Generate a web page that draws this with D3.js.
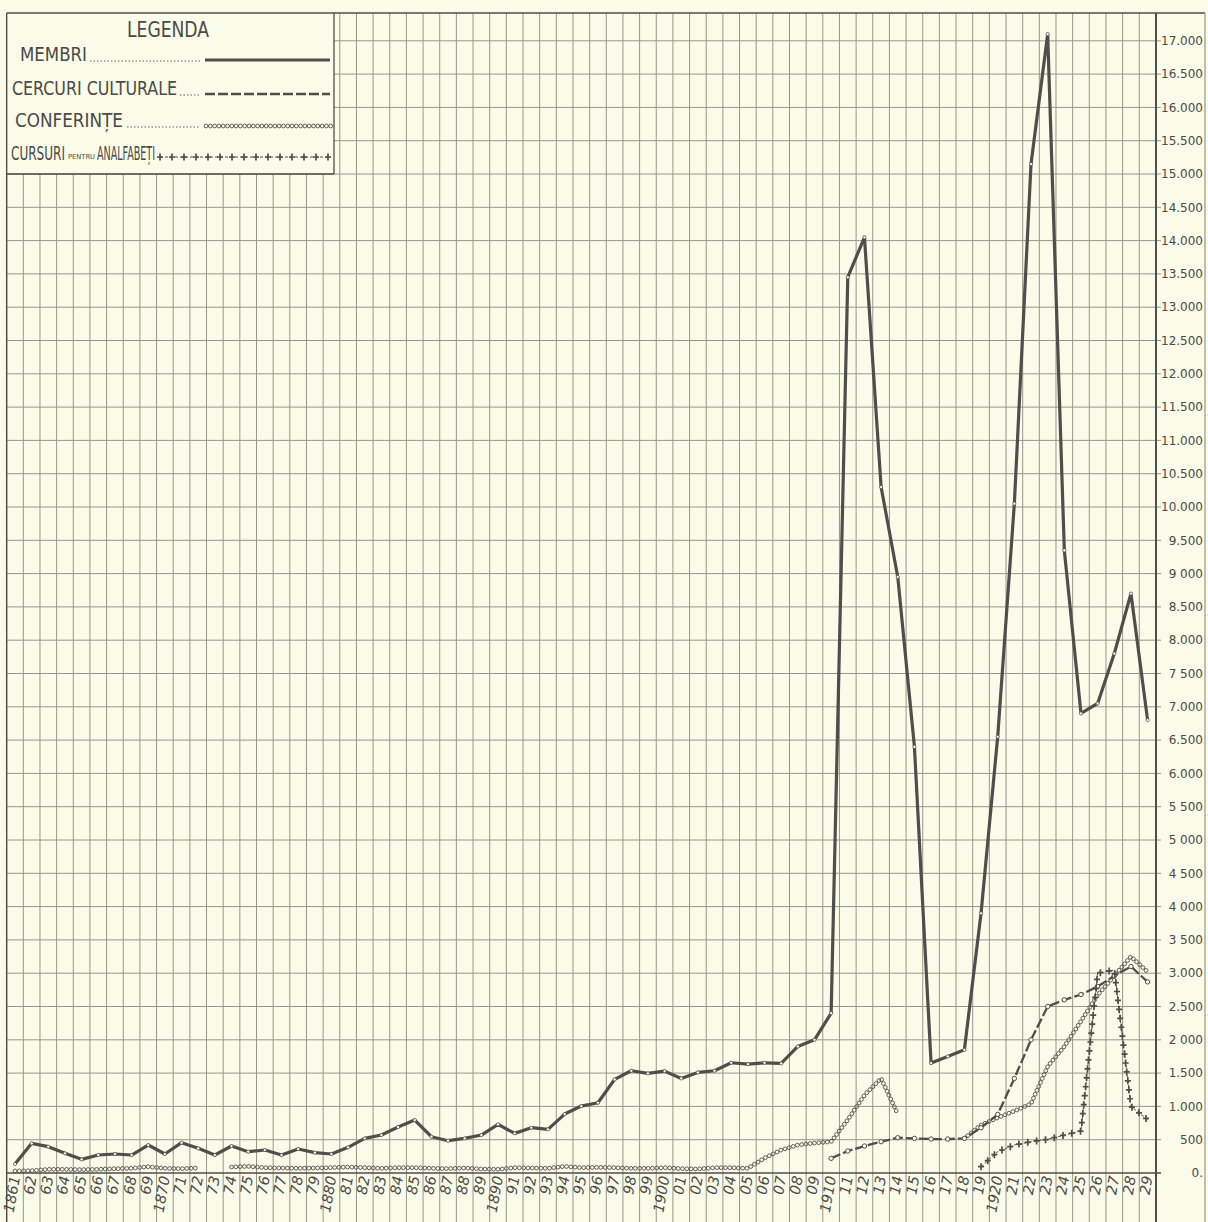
<!DOCTYPE html>
<html lang="ro">
<head>
<meta charset="utf-8">
<title>Legenda</title>
<script src="https://d3js.org/d3.v7.min.js"></script>
<style>
  body { margin: 0; background: #fbfbea; }
  svg { display: block; }
  text { fill: #4a4a46; }
</style>
</head>
<body>
<div id="chart"></div>
<script>
// ---- data ----
var YEARS = d3.range(1861, 1930);
var YEAR_LABELS = ["1861","62","63","64","65","66","67","68","69","1870",
  "71","72","73","74","75","76","77","78","79","1880",
  "81","82","83","84","85","86","87","88","89","1890",
  "91","92","93","94","95","96","97","98","99","1900",
  "01","02","03","04","05","06","07","08","09","1910",
  "11","12","13","14","15","16","17","18","19","1920",
  "21","22","23","24","25","26","27","28","29"];

var MEMBRI = [135,445,395,295,205,270,285,270,420,285,
  455,370,270,405,320,345,270,360,305,285,
  385,520,570,690,795,545,485,520,570,730,
  595,680,655,885,1005,1055,1405,1535,1495,1530,
  1420,1510,1535,1655,1635,1655,1645,1900,2000,2400,
  13450,14050,10300,8950,6400,1650,1750,1850,3900,6550,
  10050,15150,17100,9350,6900,7050,7800,8700,6800];

var CONFERINTE = [30,35,55,55,50,55,65,70,95,70,
  65,75,null,90,100,80,75,70,75,80,
  90,80,70,80,80,70,65,75,60,55,
  80,75,70,100,80,85,80,70,70,80,
  65,60,80,80,70,225,345,420,450,470,
  800,1170,1420,885,null,null,null,520,720,830,
  930,1040,1600,1900,2280,2670,2960,3250,3020];

var CERCURI_START = 1910;
var CERCURI = [220,330,405,470,530,520,510,510,520,680,
  880,1420,2000,2500,2600,2680,2800,2960,3100,2870];

var CURSURI_START = 1919;
var CURSURI = [95,320,420,470,505,570,630,3000,3050,1000,800];

var Y_TICKS = d3.range(0, 17001, 500);
var Y_LABELS = ["0.","500","1.000","1.500","2 000","2.500","3.000","3 500","4 000","4 500",
  "5 000","5 500","6.000","6.500","7.000","7 500","8.000","8.500","9 000","9.500",
  "10.000","10.500","11.000","11.500","12.000","12.500","13.000","13.500","14.000","14.500",
  "15.000","15.500","16.000","16.500","17.000"];

// ---- layout ----
var W = 1208, H = 1222;
var TOP = 13, BASE = 1173, AXIS_X = 1156, RIGHT = 1205;
var LEG_R = 334, LEG_B = 174;
var INK = "#4e4e4a", GRID = "#96968a", PAPER = "#fbfbea";

var x = d3.scaleLinear().domain([1861, 1929]).range([15, 1147.6]);
var y = d3.scaleLinear().domain([0, 17000]).range([BASE, 40.8]);

var svg = d3.select("#chart").append("svg")
  .attr("width", W).attr("height", H);

svg.append("rect").attr("width", W).attr("height", H).attr("fill", PAPER);

// vertical grid (year boundaries)
var bounds = d3.range(1860, 1930).map(function(d){ return d + 0.5; });
svg.append("g").selectAll("line").data(bounds).join("line")
  .attr("x1", function(d){ return x(d); })
  .attr("x2", function(d){ return x(d); })
  .attr("y1", function(d){ return x(d) < LEG_R ? LEG_B : TOP; })
  .attr("y2", H)
  .attr("stroke", GRID).attr("stroke-width", 1);

// horizontal grid (every 500)
svg.append("g").selectAll("line").data(Y_TICKS).join("line")
  .attr("x1", function(d){ return y(d) < LEG_B - 1 ? LEG_R : x(1860.5); })
  .attr("x2", AXIS_X + 5)
  .attr("y1", function(d){ return y(d); })
  .attr("y2", function(d){ return y(d); })
  .attr("stroke", function(d){ return d === 0 ? INK : GRID; })
  .attr("stroke-width", function(d){ return d === 0 ? 1.6 : 1; });

// frame
svg.append("line").attr("x1", x(1860.5)).attr("x2", RIGHT).attr("y1", TOP).attr("y2", TOP)
  .attr("stroke", INK).attr("stroke-width", 1.4);
svg.append("line").attr("x1", AXIS_X).attr("x2", AXIS_X).attr("y1", TOP).attr("y2", H)
  .attr("stroke", INK).attr("stroke-width", 2);
svg.append("line").attr("x1", RIGHT).attr("x2", RIGHT).attr("y1", TOP).attr("y2", H)
  .attr("stroke", GRID).attr("stroke-width", 1.2);
svg.append("line").attr("x1", x(1860.5)).attr("x2", x(1860.5)).attr("y1", TOP).attr("y2", H)
  .attr("stroke", INK).attr("stroke-width", 1.4);
svg.append("line").attr("x1", LEG_R).attr("x2", LEG_R).attr("y1", TOP).attr("y2", LEG_B)
  .attr("stroke", INK).attr("stroke-width", 1.3);
svg.append("line").attr("x1", x(1860.5)).attr("x2", LEG_R).attr("y1", LEG_B).attr("y2", LEG_B)
  .attr("stroke", INK).attr("stroke-width", 1.3);

// y labels on the right
svg.append("g").selectAll("text").data(Y_TICKS).join("text")
  .attr("x", 1203)
  .attr("y", function(d){ return y(d); })
  .attr("dy", "0.35em")
  .attr("text-anchor", "end")
  .attr("font-family", "DejaVu Sans, sans-serif")
  .attr("font-size", 12)
  .text(function(d, i){ return Y_LABELS[i]; });

// year labels, slanted
svg.append("g").selectAll("text").data(YEARS).join("text")
  .attr("transform", function(d){ return "translate(" + (x(d) + 5) + "," + (BASE + 4) + ") rotate(-80)"; })
  .attr("text-anchor", "end")
  .attr("font-family", "DejaVu Sans, sans-serif")
  .attr("font-style", "italic")
  .attr("font-size", 14.5)
  .text(function(d, i){ return YEAR_LABELS[i]; });

// ---- series ----
var line = d3.line()
  .defined(function(d){ return d.v !== null; })
  .x(function(d){ return x(d.year); })
  .y(function(d){ return y(d.v); });

function rows(start, vals) {
  return vals.map(function(v, i){ return {year: start + i, v: v}; });
}

// sample points along a drawn path, used for the chain of circles / crosses
function along(pathNode, step) {
  var len = pathNode.getTotalLength(), pts = [];
  for (var s = 0; s <= len; s += step) {
    pts.push(pathNode.getPointAtLength(s));
  }
  return pts;
}

// CONFERINTE: chain of small circles, split on gaps
var confRows = rows(1861, CONFERINTE);
var segs = [], cur = [];
confRows.forEach(function(d){
  if (d.v === null) { if (cur.length) segs.push(cur); cur = []; }
  else cur.push(d);
});
if (cur.length) segs.push(cur);

var gConf = svg.append("g");
segs.forEach(function(seg){
  var p = gConf.append("path").attr("d", line(seg)).attr("fill", "none").attr("stroke", "none");
  gConf.append("g").selectAll("circle").data(along(p.node(), 4.3)).join("circle")
    .attr("cx", function(d){ return d.x; })
    .attr("cy", function(d){ return d.y; })
    .attr("r", 1.9)
    .attr("fill", "none")
    .attr("stroke", INK).attr("stroke-width", 0.9);
});

// CERCURI CULTURALE: dashed
var cercRows = rows(CERCURI_START, CERCURI);
svg.append("path").attr("d", line(cercRows))
  .attr("fill", "none").attr("stroke", INK).attr("stroke-width", 2.3)
  .attr("stroke-dasharray", "10,3");
svg.append("g").selectAll("circle").data(cercRows).join("circle")
  .attr("cx", function(d){ return x(d.year); })
  .attr("cy", function(d){ return y(d.v); })
  .attr("r", 2.2).attr("fill", PAPER).attr("stroke", INK).attr("stroke-width", 1);

// CURSURI: crosses
var cursRows = rows(CURSURI_START, CURSURI);
var cp = svg.append("path").attr("d", line(cursRows))
  .attr("fill", "none").attr("stroke", INK).attr("stroke-width", 1)
  .attr("stroke-dasharray", "3,2");
var crossPts = along(cp.node(), 9);
var gCross = svg.append("g").attr("stroke", INK).attr("stroke-width", 1.7);
gCross.selectAll("path").data(crossPts).join("path")
  .attr("d", function(d){
    return "M" + (d.x - 3) + "," + d.y + "H" + (d.x + 3) + "M" + d.x + "," + (d.y - 3.5) + "V" + (d.y + 3.5);
  });

// MEMBRI: thick solid line
var memRows = rows(1861, MEMBRI);
svg.append("path").attr("d", line(memRows))
  .attr("fill", "none").attr("stroke", INK).attr("stroke-width", 3.2)
  .attr("stroke-linejoin", "round");
svg.append("g").selectAll("circle").data(memRows).join("circle")
  .attr("cx", function(d){ return x(d.year); })
  .attr("cy", function(d){ return y(d.v); })
  .attr("r", 1.6).attr("fill", PAPER).attr("stroke", INK).attr("stroke-width", 0.7);

// ---- legend ----
var leg = svg.append("g").attr("font-family", "DejaVu Sans Condensed, DejaVu Sans, sans-serif");
leg.append("text").attr("x", 127).attr("y", 37).attr("font-size", 22)
  .attr("textLength", 82).attr("lengthAdjust", "spacingAndGlyphs").text("LEGENDA");

var LEG_ITEMS = [
  {label: "MEMBRI", x: 20, y: 61, w: 67},
  {label: "CERCURI CULTURALE", x: 12, y: 95, w: 165},
  {label: "CONFERINȚE", x: 15, y: 127, w: 108}
];
LEG_ITEMS.forEach(function(it){
  leg.append("text").attr("x", it.x).attr("y", it.y).attr("font-size", 19)
    .attr("textLength", it.w).attr("lengthAdjust", "spacingAndGlyphs").text(it.label);
});

// "CURSURI pentru ANALFABEȚI": tall narrow words, drawn smaller and stretched upward
leg.append("text").attr("transform", "translate(11,160) scale(1,1.45)")
  .attr("font-size", 13)
  .attr("textLength", 54).attr("lengthAdjust", "spacingAndGlyphs").text("CURSURI");
leg.append("text").attr("x", 68).attr("y", 159).attr("font-size", 7)
  .attr("textLength", 27).attr("lengthAdjust", "spacingAndGlyphs").text("PENTRU");
leg.append("text").attr("transform", "translate(97,160) scale(1,1.45)")
  .attr("font-size", 13)
  .attr("textLength", 58).attr("lengthAdjust", "spacingAndGlyphs").text("ANALFABEȚI");

// leader dots
var leaders = [[90, 200, 61], [180, 200, 95], [127, 200, 127]];
leaders.forEach(function(l){
  leg.append("line").attr("x1", l[0]).attr("x2", l[1]).attr("y1", l[2]).attr("y2", l[2])
    .attr("stroke", INK).attr("stroke-width", 0.9).attr("stroke-dasharray", "1.5,2");
});

leg.append("line").attr("x1", 205).attr("x2", 330).attr("y1", 60).attr("y2", 60)
  .attr("stroke", INK).attr("stroke-width", 3);
leg.append("line").attr("x1", 205).attr("x2", 330).attr("y1", 94).attr("y2", 94)
  .attr("stroke", INK).attr("stroke-width", 2.3).attr("stroke-dasharray", "10,3");
var lc = leg.append("path").attr("d", "M206,126H331").attr("stroke", "none");
leg.append("g").selectAll("circle").data(along(lc.node(), 4.3)).join("circle")
  .attr("cx", function(d){ return d.x; }).attr("cy", function(d){ return d.y; })
  .attr("r", 1.9).attr("fill", "none").attr("stroke", INK).attr("stroke-width", 0.9);
var lx = leg.append("path").attr("d", "M160,157H331").attr("stroke", INK)
  .attr("stroke-width", 1).attr("stroke-dasharray", "3,2");
leg.append("g").attr("stroke", INK).attr("stroke-width", 1.7).selectAll("path")
  .data(along(lx.node(), 12)).join("path")
  .attr("d", function(d){
    return "M" + (d.x - 3) + "," + d.y + "H" + (d.x + 3) + "M" + d.x + "," + (d.y - 3.5) + "V" + (d.y + 3.5);
  });
</script>
</body>
</html>
